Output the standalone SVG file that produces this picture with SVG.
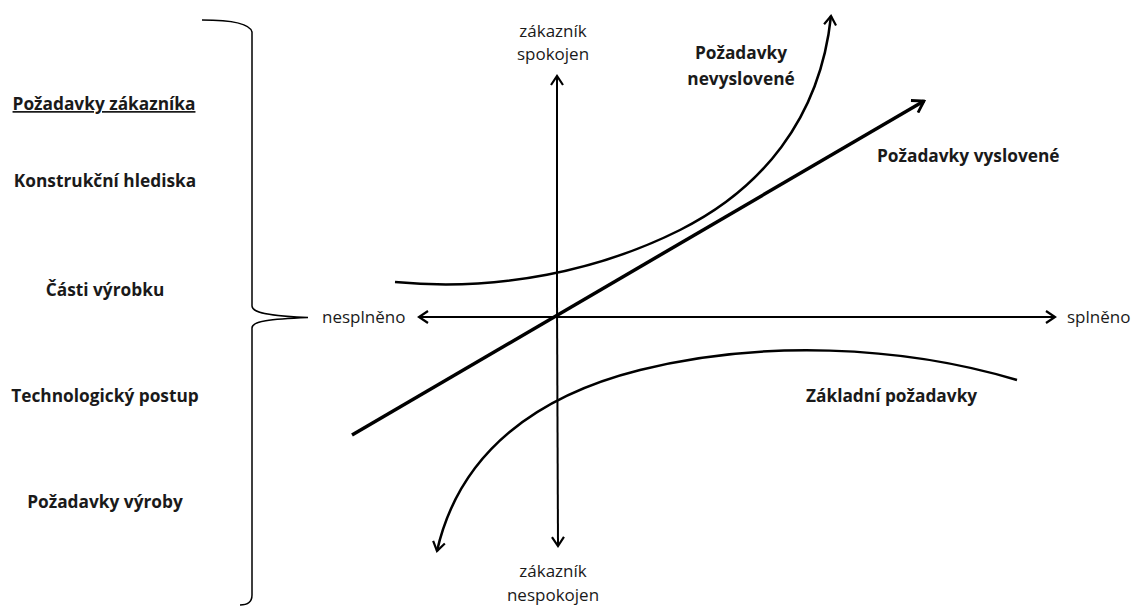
<svg xmlns="http://www.w3.org/2000/svg" width="1139" height="607" viewBox="0 0 1139 607">
<defs>
<marker id="ah" viewBox="0 0 12 14" refX="10" refY="7" markerWidth="12" markerHeight="14" markerUnits="userSpaceOnUse" orient="auto">
<path d="M1,1 L10,7 L1,13" fill="none" stroke="#000" stroke-width="2.2"/>
</marker>
<marker id="ah2" viewBox="0 0 14 16" refX="12" refY="8" markerWidth="14" markerHeight="16" markerUnits="userSpaceOnUse" orient="auto">
<path d="M1,1 L12,8 L1,15" fill="none" stroke="#000" stroke-width="2.8"/>
</marker>
</defs>
<style>
text{font-family:"Open Sans","Liberation Sans",sans-serif;fill:#1a1a1a}
.b{font-weight:bold;font-size:17.3px}
.r{font-size:17px}
.ln{fill:none;stroke:#000}
.w15{stroke-width:1.5}
.w2{stroke-width:2}
.w25{stroke-width:2.5}
.w35{stroke-width:3.5}
</style>
<rect width="1139" height="607" fill="#fff"/>
<g id="brace">
<path class="ln w15" d="M202,20 C235,20 250,24 252,32 L252,306 C252,313 270,316 308,317.5 C270,319 252,321 252,328 L252,595 C252,602 248,605 240,605"/>
</g>
<g id="left-labels" text-anchor="middle">
<text class="b" x="104" y="110" text-decoration="underline">Požadavky zákazníka</text>
<text class="b" x="105" y="187">Konstrukční hlediska</text>
<text class="b" x="105" y="296">Části výrobku</text>
<text class="b" x="105" y="402">Technologický postup</text>
<text class="b" x="105" y="508">Požadavky výroby</text>
</g>
<g id="connectors">
<line class="ln w2" x1="557" y1="300" x2="557" y2="76" marker-end="url(#ah)"/>
<line class="ln w2" x1="557" y1="300" x2="558" y2="546" marker-end="url(#ah)"/>
<line class="ln w2" x1="557" y1="317" x2="419" y2="317" marker-end="url(#ah)"/>
<line class="ln w2" x1="557" y1="317" x2="1055" y2="317" marker-end="url(#ah)"/>
<line class="ln w35" x1="352" y1="435" x2="924" y2="101" marker-end="url(#ah2)"/>
<path class="ln w25" d="M395,282 C500,292 600,270 680,230 C760,190 820,120 831,16" marker-end="url(#ah)"/>
<path class="ln w25" d="M1017,380 C900,345 760,340 640,370 C540,395 460,450 437,551" marker-end="url(#ah)"/>
</g>
<g id="axis-labels">
<text class="r" x="553" y="37" text-anchor="middle">zákazník</text>
<text class="r" x="553" y="60" text-anchor="middle">spokojen</text>
<text class="r" x="553" y="577" text-anchor="middle">zákazník</text>
<text class="r" x="553" y="601" text-anchor="middle">nespokojen</text>
<text class="r" x="322" y="323">nesplněno</text>
<text class="r" x="1067" y="323">splněno</text>
</g>
<g id="curve-labels">
<text class="b" x="741" y="59" text-anchor="middle">Požadavky</text>
<text class="b" x="741" y="85" text-anchor="middle">nevyslovené</text>
<text class="b" x="877" y="162">Požadavky vyslovené</text>
<text class="b" x="806" y="402">Základní požadavky</text>
</g>
</svg>
